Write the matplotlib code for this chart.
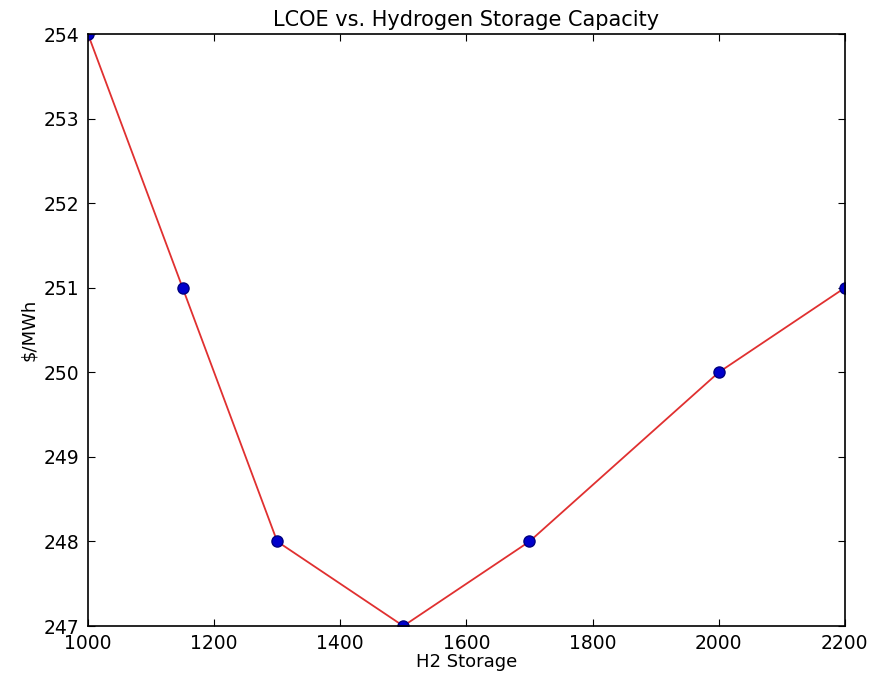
import matplotlib.pyplot as plt

# %% data
storage = [1000, 1150, 1300, 1500, 1700, 2000, 2200]
lcoe = [254, 251, 248, 247, 248, 250, 251]

# %% plot
fig = plt.figure(figsize=(8.82, 6.74), dpi=100)
ax = fig.add_axes([0.0998, 0.0712, 0.858, 0.878])
ax.plot(storage, lcoe, color='#e03030', linewidth=1.3)
ax.plot(storage, lcoe, 'o', color='#0000cc', markeredgecolor='#000080',
        markersize=8, linestyle='none')
ax.set_xlim(1000, 2200)
ax.set_ylim(247, 254)
ax.set_xticks(range(1000, 2201, 200))
ax.set_yticks(range(247, 255))
ax.tick_params(direction='in', top=True, right=True, length=5, labelsize=13.5, pad=6)
for s in ax.spines.values():
    s.set_linewidth(1.2)
ax.set_title('LCOE vs. Hydrogen Storage Capacity', fontsize=15)
ax.set_xlabel('H2 Storage', fontsize=13, labelpad=0)
ax.set_ylabel('$/MWh', fontsize=13)
fig.savefig('out.png', dpi=100)
